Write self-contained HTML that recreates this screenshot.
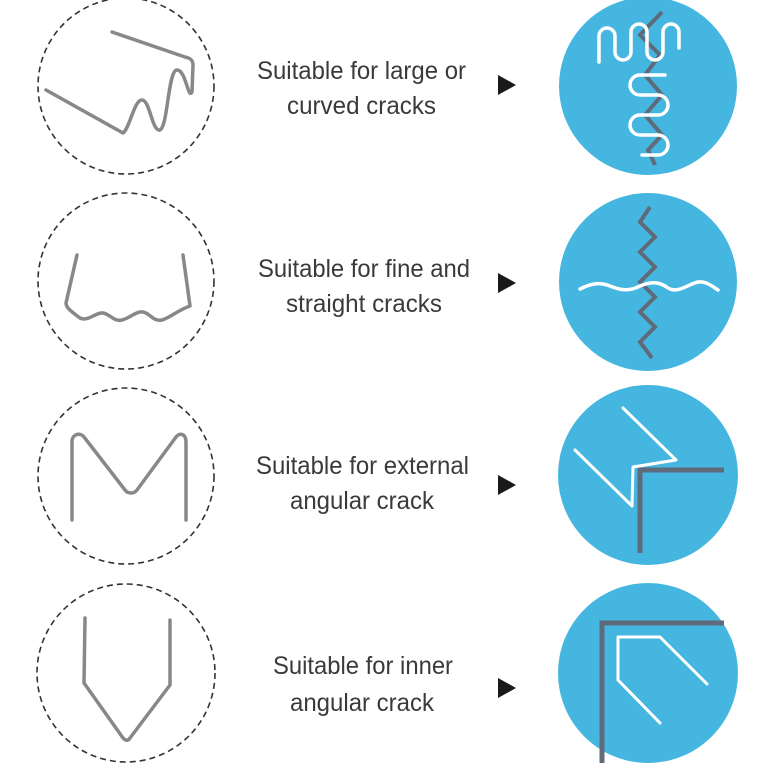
<!DOCTYPE html>
<html><head><style>
html,body{margin:0;padding:0;background:#fff;}
body{width:770px;height:770px;overflow:hidden;}
text{font-family:"Liberation Sans",sans-serif;font-size:25px;fill:#3a3a3a;}
</style></head><body>
<svg width="770" height="770" viewBox="0 0 770 770" xmlns="http://www.w3.org/2000/svg">
<g fill="none" stroke="#333" stroke-width="1.6" stroke-dasharray="6,4">
<circle cx="126" cy="86" r="88"/>
<circle cx="126" cy="281" r="88"/>
<circle cx="126" cy="476" r="88"/>
<circle cx="126" cy="673" r="89"/>
</g>
<g fill="none" stroke="#888" stroke-width="3.5" stroke-linecap="round" stroke-linejoin="round">
<path d="M46,90 L123,133 C130,128 134,100 142,100 C150,100 152,132 160,130 C168,126 168,70 177,70 C186,70 188,100 192,92 L193,65 C193,60 190,58 185,57 L112,32"/>
<path d="M77,255 L66,303 C66,308 72,312 80,318 C88,322 96,312 103,313 C110,314 114,322 122,320 C130,318 136,311 143,312 C150,313 153,322 162,320 C170,318 178,310 190,306 L183,255"/>
<path d="M72,520 L72,442 C72,434 80,432 84,437 L125,490 C128,494 134,494 137,490 L176,437 C180,432 186,434 186,442 L186,520"/>
<path d="M85,618 L84,683 L123,738 C126,741 128,741 130,738 L170,685 L170,620"/>
</g>
<g>
<text x="257" y="79" textLength="209" lengthAdjust="spacingAndGlyphs">Suitable for large or</text>
<text x="287" y="114" textLength="149" lengthAdjust="spacingAndGlyphs">curved cracks</text>
<text x="258" y="277" textLength="212" lengthAdjust="spacingAndGlyphs">Suitable for fine and</text>
<text x="286" y="312" textLength="156" lengthAdjust="spacingAndGlyphs">straight cracks</text>
<text x="256" y="474" textLength="213" lengthAdjust="spacingAndGlyphs">Suitable for external</text>
<text x="290" y="509" textLength="144" lengthAdjust="spacingAndGlyphs">angular crack</text>
<text x="273" y="674" textLength="180" lengthAdjust="spacingAndGlyphs">Suitable for inner</text>
<text x="290" y="711" textLength="144" lengthAdjust="spacingAndGlyphs">angular crack</text>
</g>
<g fill="#1a1a1a">
<polygon points="498,75 498,95 516,85"/>
<polygon points="498,273 498,293 516,283"/>
<polygon points="498,475 498,495 516,485"/>
<polygon points="498,678 498,698 516,688"/>
</g>
<g fill="#45b6e0">
<circle cx="648" cy="86" r="89"/>
<circle cx="648" cy="282" r="89"/>
<circle cx="648" cy="475" r="90"/>
<circle cx="648" cy="673" r="90"/>
</g>
<g fill="none" stroke="#5f6b7a" stroke-width="4" stroke-linejoin="miter">
<path d="M662,12 L640,35 L660,55 L645,75 L662,95 L645,115 L662,135 L648,150 L655,165"/>
<path d="M650,207 L640,222 L655,237 L640,252 L655,267 L640,282 L655,297 L640,312 L655,327 L640,342 L652,358"/>
<path d="M640,553 L640,470 L724,470" stroke-width="5"/>
<path d="M602,763 L602,623 L724,623" stroke-width="5"/>
</g>
<g fill="none" stroke="#fff" stroke-width="3.5" stroke-linecap="round" stroke-linejoin="round">
<path d="M599,62 V36 a8,8 0 0 1 16,0 V52 a8,8 0 0 0 16,0 V32 a8,8 0 0 1 16,0 V52 a8,8 0 0 0 16,0 V32 a8,8 0 0 1 16,0 V48"/>
<path d="M665,75 H640 a10,10 0 0 0 0,20 H658 a10,10 0 0 1 0,20 H640 a10,10 0 0 0 0,20 H658 a10,10 0 0 1 0,20 H642"/>
<path d="M580,289 C592,283 600,282 610,286 C620,290 628,292 640,286 C652,281 660,282 668,288 C678,294 688,284 698,282 C706,281 712,286 718,290"/>
<path d="M623,408 L676,460 L633,467 L632,506 L575,450" stroke-width="3"/>
<path d="M707,684 L660,637 L618,637 L618,680 L660,723" stroke-width="3"/>
</g>
</svg>
</body></html>
